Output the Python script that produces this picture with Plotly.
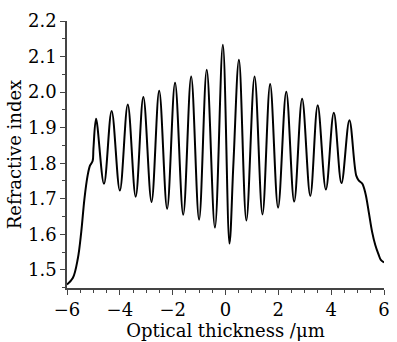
import plotly.graph_objects as go

x_um = [-6.00, -5.78, -5.59, -5.46, -5.34, -5.22, -5.13, -5.03, -5.00,
        -4.90, -4.60, -4.31, -4.00, -3.70, -3.40, -3.11, -2.80, -2.51, -2.21,
        -1.91, -1.60, -1.30, -1.00, -0.71, -0.40, -0.10, 0.15, 0.30, 0.51,
        0.79, 1.10, 1.40, 1.69, 1.99, 2.30, 2.60, 2.90, 3.21, 3.49, 3.80,
        4.10, 4.39, 4.69, 4.95, 5.05, 5.18, 5.30, 5.42, 5.55, 5.67, 5.80,
        5.88, 6.00]
n_idx = [1.459, 1.477, 1.532, 1.607, 1.700, 1.765, 1.793, 1.806, 1.840,
         1.925, 1.742, 1.947, 1.723, 1.965, 1.706, 1.986, 1.691, 2.004, 1.672,
         2.026, 1.655, 2.044, 1.641, 2.063, 1.619, 2.133, 1.574, 1.800, 2.091,
         1.639, 2.044, 1.656, 2.023, 1.675, 2.001, 1.692, 1.981, 1.708, 1.963, 1.726,
         1.942, 1.744, 1.921, 1.765, 1.751, 1.742, 1.714, 1.664, 1.607, 1.570, 1.542,
         1.528, 1.521]

x_ticks = [-6, -4, -2, 0, 2, 4, 6]
y_ticks = [1.5, 1.6, 1.7, 1.8, 1.9, 2.0, 2.1, 2.2]

FONT = "DejaVu Serif"

fig = go.Figure()
fig.add_trace(go.Scatter(
    x=x_um, y=n_idx, mode="lines",
    line=dict(color="black", width=2, shape="spline", smoothing=1.0),
    showlegend=False,
))

axis_common = dict(
    showgrid=False, zeroline=False, showline=True,
    linecolor="#444", linewidth=1.5, ticks="outside",
    tickcolor="#444", tickwidth=1.2, ticklen=5,
    tickfont=dict(family=FONT, size=18, color="black"),
)

fig.update_xaxes(
    range=[-6, 6], tickvals=x_ticks,
    minor=dict(dtick=0.5, ticks="outside", ticklen=3, tickcolor="#444", tickwidth=1),
    title=dict(text="Optical thickness /μm", font=dict(family=FONT, size=18, color="black"), standoff=2),
    **axis_common,
)
fig.update_yaxes(
    range=[1.449, 2.2], tickvals=y_ticks, tickformat=".1f",
    minor=dict(dtick=0.05, ticks="outside", ticklen=3, tickcolor="#444", tickwidth=1),
    title=dict(text="Refractive index", font=dict(family=FONT, size=18, color="black"), standoff=2),
    **axis_common,
)

fig.update_layout(
    width=397, height=342,
    margin=dict(l=67, r=7, t=21, b=52),
    paper_bgcolor="white", plot_bgcolor="white",
)

fig.write_html("out.html")
